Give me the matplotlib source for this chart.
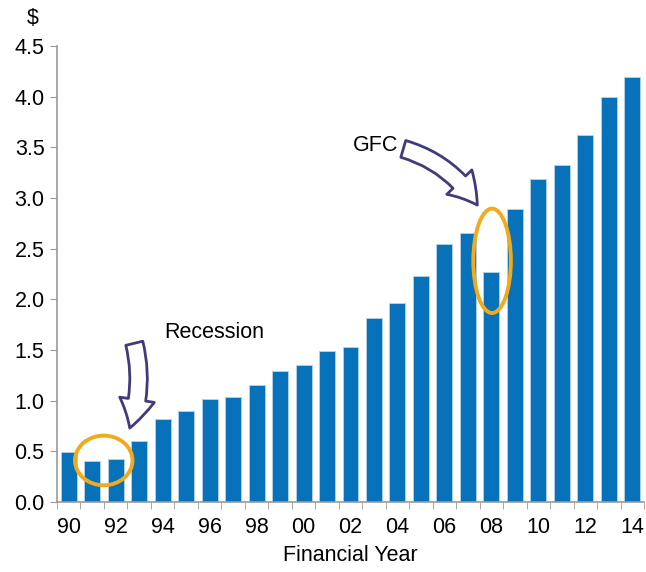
import matplotlib.pyplot as plt
from matplotlib.patches import Ellipse

plt.rcParams['font.family'] = ['Liberation Sans', 'DejaVu Sans']

years = ['90', '91', '92', '93', '94', '95', '96', '97', '98', '99', '00', '01', '02',
         '03', '04', '05', '06', '07', '08', '09', '10', '11', '12', '13', '14']
values = [0.49, 0.40, 0.42, 0.60, 0.82, 0.90, 1.02, 1.04, 1.15, 1.29, 1.35, 1.49, 1.53,
          1.82, 1.96, 2.23, 2.55, 2.65, 2.27, 2.89, 3.19, 3.33, 3.62, 4.00, 4.19]
y_ticks = [0.0, 0.5, 1.0, 1.5, 2.0, 2.5, 3.0, 3.5, 4.0, 4.5]

bar_col = '#0772BA'
ring_col = '#F0AA1C'
arrow_col = '#403C7C'
axis_col = '#9A9A9A'
fs = 15.5

fig = plt.figure(figsize=(6.46, 5.72), dpi=100)
ax = fig.add_axes([57 / 646, 70 / 572, 587 / 646, 456 / 572])

x = list(range(len(years)))
ax.bar(x, values, width=0.68, color=bar_col, edgecolor='#b5d3ea', linewidth=0.6, zorder=2)

ax.set_xlim(-0.5, len(years) - 0.5)
ax.set_ylim(0, 4.5)
ax.set_yticks(y_ticks)
ax.set_yticklabels([f'{v:.1f}' for v in y_ticks], fontsize=fs)
ax.set_xticks(x[::2])
ax.set_xticklabels(years[::2], fontsize=fs)
ax.set_xticks([i - 0.5 for i in range(len(years) + 1)], minor=True)
ax.tick_params(axis='x', which='major', length=0, pad=11)
ax.tick_params(axis='x', which='minor', length=5, color=axis_col, direction='out')
ax.tick_params(axis='y', length=5, color=axis_col, pad=4)
for s in ['top', 'right']:
    ax.spines[s].set_visible(False)
for s in ['left', 'bottom']:
    ax.spines[s].set_color(axis_col)
    ax.spines[s].set_linewidth(1.2)

ax.set_xlabel('Financial Year', fontsize=fs, labelpad=5)
fig.text(33 / 646, 1 - 18 / 572, '$', fontsize=fs, ha='center', va='center')

# rings around the dips
ax.add_patch(Ellipse((1.49, 0.41), 2.45, 0.49, fill=False, edgecolor=ring_col, lw=2.8, zorder=3))
ax.add_patch(Ellipse((18.03, 2.38), 1.6, 1.03, fill=False, edgecolor=ring_col, lw=2.8, zorder=3))

# hand-drawn style arrows
arrow_kw = dict(arrowstyle='simple,head_length=1.5,head_width=1.8,tail_width=0.9',
                facecolor='white', edgecolor=arrow_col, lw=2.0, mutation_scale=14)
ax.annotate('Recession', xy=(2.6, 0.73), xytext=(6.2, 1.67), fontsize=fs,
            ha='center', va='center',
            arrowprops=dict(connectionstyle='arc3,rad=-0.15', shrinkA=0, shrinkB=0,
                            relpos=(-0.3, 0.0), **arrow_kw))
ax.annotate('GFC', xy=(17.4, 2.93), xytext=(13.05, 3.52), fontsize=fs,
            ha='center', va='center',
            arrowprops=dict(connectionstyle='arc3,rad=-0.2', shrinkA=2, shrinkB=0,
                            relpos=(1.0, 0.4), **arrow_kw))

fig.savefig('out.png', dpi=100)
